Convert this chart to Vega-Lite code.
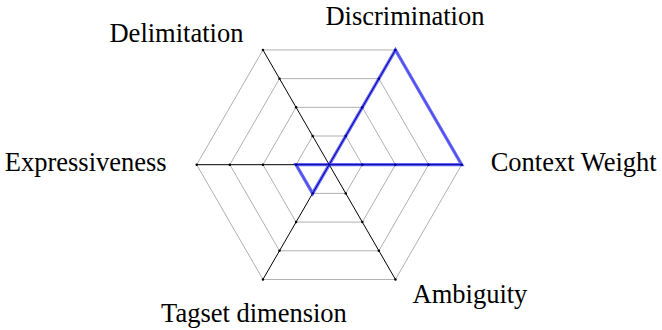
{
  "$schema": "https://vega.github.io/schema/vega-lite/v6.json",
  "width": 662,
  "height": 330,
  "autosize": "none",
  "padding": 0,
  "background": "white",
  "config": {"view": {"stroke": null}},
  "datasets": {
    "radar": [
      {"axis": "Context Weight", "k": 0, "value": 4},
      {"axis": "Discrimination", "k": 1, "value": 4},
      {"axis": "Delimitation", "k": 2, "value": 0},
      {"axis": "Expressiveness", "k": 3, "value": 1},
      {"axis": "Tagset dimension", "k": 4, "value": 1},
      {"axis": "Ambiguity", "k": 5, "value": 0}
    ],
    "grid": [
      {"level": 1, "k": 0}, {"level": 1, "k": 1}, {"level": 1, "k": 2}, {"level": 1, "k": 3}, {"level": 1, "k": 4}, {"level": 1, "k": 5},
      {"level": 2, "k": 0}, {"level": 2, "k": 1}, {"level": 2, "k": 2}, {"level": 2, "k": 3}, {"level": 2, "k": 4}, {"level": 2, "k": 5},
      {"level": 3, "k": 0}, {"level": 3, "k": 1}, {"level": 3, "k": 2}, {"level": 3, "k": 3}, {"level": 3, "k": 4}, {"level": 3, "k": 5},
      {"level": 4, "k": 0}, {"level": 4, "k": 1}, {"level": 4, "k": 2}, {"level": 4, "k": 3}, {"level": 4, "k": 4}, {"level": 4, "k": 5}
    ]
  },
  "encoding": {
    "x": {"field": "px", "type": "quantitative", "axis": null, "scale": {"domain": [-9.938, 10.047], "nice": false, "zero": false}},
    "y": {"field": "py", "type": "quantitative", "axis": null, "scale": {"domain": [-4.99, 4.972], "nice": false, "zero": false}}
  },
  "layer": [
    {
      "data": {"name": "grid"},
      "transform": [
        {"calculate": "datum.level * cos(datum.k * PI / 3)", "as": "px"},
        {"calculate": "datum.level * sin(datum.k * PI / 3)", "as": "py"}
      ],
      "mark": {"type": "line", "interpolate": "linear-closed", "stroke": "#b0b0b0", "strokeWidth": 1},
      "encoding": {"detail": {"field": "level"}, "order": {"field": "k"}}
    },
    {
      "data": {"name": "radar"},
      "transform": [
        {"calculate": "4 * cos(datum.k * PI / 3)", "as": "px"},
        {"calculate": "4 * sin(datum.k * PI / 3)", "as": "py"}
      ],
      "mark": {"type": "rule", "stroke": "black", "strokeWidth": 1},
      "encoding": {"x2": {"datum": 0}, "y2": {"datum": 0}}
    },
    {
      "data": {"name": "grid"},
      "transform": [
        {"calculate": "datum.level * cos(datum.k * PI / 3)", "as": "px"},
        {"calculate": "datum.level * sin(datum.k * PI / 3)", "as": "py"}
      ],
      "mark": {"type": "circle", "size": 6, "color": "black", "opacity": 1}
    },
    {
      "data": {"name": "radar"},
      "transform": [
        {"calculate": "datum.value * cos(datum.k * PI / 3)", "as": "px"},
        {"calculate": "datum.value * sin(datum.k * PI / 3)", "as": "py"}
      ],
      "mark": {"type": "line", "interpolate": "linear-closed", "stroke": "#0000ff", "strokeOpacity": 0.6, "strokeWidth": 3.3, "strokeJoin": "miter"},
      "encoding": {"order": {"field": "k"}}
    },
    {
      "data": {"name": "radar"},
      "transform": [
        {"filter": "datum.k == 0"},
        {"calculate": "4 * cos(datum.k * PI / 3)", "as": "px"},
        {"calculate": "4 * sin(datum.k * PI / 3)", "as": "py"}
      ],
      "mark": {"type": "text", "align": "left", "baseline": "alphabetic", "dx": 29, "dy": 6, "font": "Liberation Serif", "fontSize": 26.5, "color": "black"},
      "encoding": {"text": {"field": "axis"}}
    },
    {
      "data": {"name": "radar"},
      "transform": [
        {"filter": "datum.k == 1"},
        {"calculate": "4 * cos(datum.k * PI / 3)", "as": "px"},
        {"calculate": "4 * sin(datum.k * PI / 3)", "as": "py"}
      ],
      "mark": {"type": "text", "align": "center", "baseline": "alphabetic", "dx": 9.5, "dy": -25, "font": "Liberation Serif", "fontSize": 26.5, "color": "black"},
      "encoding": {"text": {"field": "axis"}}
    },
    {
      "data": {"name": "radar"},
      "transform": [
        {"filter": "datum.k == 2"},
        {"calculate": "4 * cos(datum.k * PI / 3)", "as": "px"},
        {"calculate": "4 * sin(datum.k * PI / 3)", "as": "py"}
      ],
      "mark": {"type": "text", "align": "center", "baseline": "alphabetic", "dx": -86.5, "dy": -8, "font": "Liberation Serif", "fontSize": 26.5, "color": "black"},
      "encoding": {"text": {"field": "axis"}}
    },
    {
      "data": {"name": "radar"},
      "transform": [
        {"filter": "datum.k == 3"},
        {"calculate": "4 * cos(datum.k * PI / 3)", "as": "px"},
        {"calculate": "4 * sin(datum.k * PI / 3)", "as": "py"}
      ],
      "mark": {"type": "text", "align": "right", "baseline": "alphabetic", "dx": -30, "dy": 6, "font": "Liberation Serif", "fontSize": 26.5, "color": "black"},
      "encoding": {"text": {"field": "axis"}}
    },
    {
      "data": {"name": "radar"},
      "transform": [
        {"filter": "datum.k == 4"},
        {"calculate": "4 * cos(datum.k * PI / 3)", "as": "px"},
        {"calculate": "4 * sin(datum.k * PI / 3)", "as": "py"}
      ],
      "mark": {"type": "text", "align": "center", "baseline": "alphabetic", "dx": -9, "dy": 43, "font": "Liberation Serif", "fontSize": 26.5, "color": "black"},
      "encoding": {"text": {"field": "axis"}}
    },
    {
      "data": {"name": "radar"},
      "transform": [
        {"filter": "datum.k == 5"},
        {"calculate": "4 * cos(datum.k * PI / 3)", "as": "px"},
        {"calculate": "4 * sin(datum.k * PI / 3)", "as": "py"}
      ],
      "mark": {"type": "text", "align": "center", "baseline": "alphabetic", "dx": 74.5, "dy": 24, "font": "Liberation Serif", "fontSize": 26.5, "color": "black"},
      "encoding": {"text": {"field": "axis"}}
    }
  ]
}
